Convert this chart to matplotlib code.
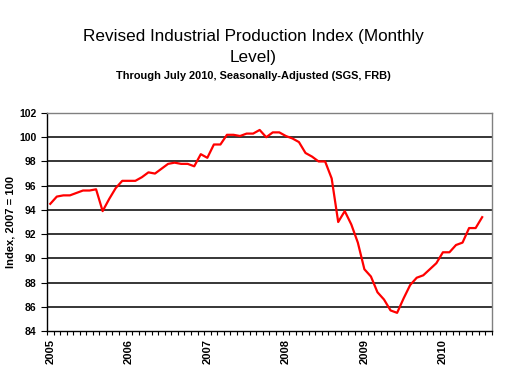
import numpy as np
import matplotlib
matplotlib.use("Agg")
import matplotlib.pyplot as plt
from matplotlib.ticker import FixedLocator

plt.rcParams['font.family'] = ['Liberation Sans', 'DejaVu Sans']

# monthly index, Jan 2005 .. Jul 2010 (2007 = 100)
ip_index = [
    94.5, 95.1, 95.2, 95.2, 95.4, 95.6, 95.6, 95.7, 93.9, 94.9, 95.8, 96.4,   # 2005
    96.4, 96.4, 96.7, 97.1, 97.0, 97.4, 97.8, 97.9, 97.8, 97.8, 97.6, 98.6,   # 2006
    98.3, 99.4, 99.4, 100.2, 100.2, 100.1, 100.3, 100.3, 100.6, 100.0, 100.4, 100.4,  # 2007
    100.1, 99.9, 99.6, 98.7, 98.4, 98.0, 98.0, 96.6, 93.0, 93.9, 92.8, 91.3,  # 2008
    89.1, 88.5, 87.2, 86.6, 85.7, 85.5, 86.7, 87.8, 88.4, 88.6, 89.1, 89.6,   # 2009
    90.5, 90.5, 91.1, 91.3, 92.5, 92.5, 93.4,                                 # 2010
]
n_categories = 68  # chart axis runs one empty month past July 2010
year_labels = ["2005", "2006", "2007", "2008", "2009", "2010"]
y_ticks = [84, 86, 88, 90, 92, 94, 96, 98, 100, 102]

fig = plt.figure(figsize=(5.06, 3.81), dpi=100)
ax = fig.add_axes([0.0929, 0.1312, 0.8794, 0.5722])

x = np.arange(len(ip_index))
ax.plot(x, ip_index, color="#ff0000", lw=1.6)

ax.set_xlim(-0.5, n_categories - 0.5)
ax.set_ylim(84, 102)

# gridlines
ax.set_yticks(y_ticks)
ax.set_yticklabels([str(v) for v in y_ticks], fontsize=7.5, fontweight="bold")
for v in y_ticks[1:-1]:
    ax.axhline(v, color="black", lw=1.1, zorder=0)

# x axis: boundary tick marks, year labels on January
ax.xaxis.set_major_locator(FixedLocator([12 * i for i in range(len(year_labels))]))
ax.set_xticklabels(year_labels, rotation=90, fontsize=8, fontweight="bold")
ax.xaxis.set_minor_locator(FixedLocator(np.arange(-0.5, n_categories, 1.0)))
ax.tick_params(axis="x", which="major", length=0, pad=6)
ax.tick_params(axis="x", which="minor", length=3, width=0.8, direction="out")
ax.tick_params(axis="y", length=4.5, width=0.8, pad=3)

for side in ["top", "right"]:
    ax.spines[side].set_color("#808080")
    ax.spines[side].set_linewidth(1.0)
for side in ["left", "bottom"]:
    ax.spines[side].set_color("black")
    ax.spines[side].set_linewidth(1.0)

ax.set_ylabel("Index, 2007 = 100", fontsize=8, fontweight="bold", labelpad=3)

fig.text(0.5, 0.905, "Revised Industrial Production Index (Monthly", ha="center",
         va="center", fontsize=12.3)
fig.text(0.5, 0.85, "Level)", ha="center", va="center", fontsize=12.3)
fig.text(0.5, 0.80, "Through July 2010, Seasonally-Adjusted (SGS, FRB)", ha="center",
         va="center", fontsize=7.9, fontweight="bold")

fig.savefig("out.png", dpi=100)
